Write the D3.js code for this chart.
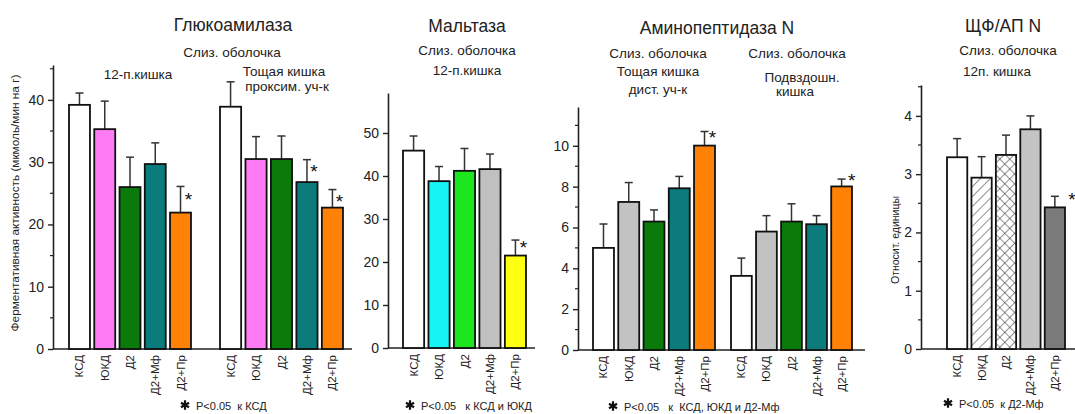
<!DOCTYPE html>
<html><head><meta charset="utf-8">
<script src="https://cdn.jsdelivr.net/npm/d3@7"></script>
<style>
body{margin:0;background:#fff}
svg{display:block;font-family:"Liberation Sans",Arial,sans-serif}
</style>
</head><body>
<svg id="chart" width="1075" height="414"></svg>
<script>
// Группы животных
const groups = ["КСД", "ЮКД", "Д2", "Д2+Мф", "Д2+Пр"];

// Глюкоамилаза, мкмоль/мин на г (среднее и ошибка)
const glucoDuodMean = [39.2, 35.3, 26.0, 29.7, 21.9];
const glucoDuodErr  = [1.9, 4.5, 4.8, 3.4, 4.2];
const glucoJejMean  = [38.9, 30.5, 30.5, 26.8, 22.7];
const glucoJejErr   = [4.0, 3.6, 3.7, 3.6, 2.9];

// Мальтаза
const maltaseMean = [45.9, 38.8, 41.2, 41.6, 21.5];
const maltaseErr  = [3.4, 3.4, 5.2, 3.5, 3.6];

// Аминопептидаза N
const apnJejMean = [5.0, 7.25, 6.29, 7.92, 10.01];
const apnJejErr  = [1.17, 0.95, 0.57, 0.58, 0.69];
const apnIleMean = [3.63, 5.8, 6.29, 6.16, 8.01];
const apnIleErr  = [0.87, 0.78, 0.87, 0.42, 0.36];

// Отношение ЩФ/АП N
const ratioMean = [3.29, 2.94, 3.33, 3.77, 2.43];
const ratioErr  = [0.32, 0.36, 0.34, 0.23, 0.19];

// Достоверные отличия (p<0.05)
const glucoDuodSig = [0, 0, 0, 0, 1];
const glucoJejSig  = [0, 0, 0, 1, 1];
const maltaseSig   = [0, 0, 0, 0, 1];
const apnJejSig    = [0, 0, 0, 0, 1];
const apnIleSig    = [0, 0, 0, 0, 1];
const ratioSig     = [0, 0, 0, 0, 1];

// Деления осей
const glucoTicks = [0, 10, 20, 30, 40];
const glucoMinor = [5, 15, 25, 35, 45];
const maltaseTicks = [0, 10, 20, 30, 40, 50];
const apnTicks = [0, 2, 4, 6, 8, 10];
const apnMinor = [1, 3, 5, 7, 9, 11];
const ratioTicks = [0, 1, 2, 3, 4];
const ratioMinor = [0.5, 1.5, 2.5, 3.5, 4.5];

const svg = d3.select("#chart");
const ink = "#222";

// Штриховки для панели ЩФ/АП N
const defs = svg.append("defs");
const diag = defs.append("pattern").attr("id", "hatchDiag")
  .attr("patternUnits", "userSpaceOnUse").attr("width", 7).attr("height", 7)
  .attr("patternTransform", "rotate(45)");
diag.append("rect").attr("width", 7).attr("height", 7).attr("fill", "#fff");
diag.append("line").attr("x1", 0).attr("y1", 0).attr("x2", 0).attr("y2", 7)
  .attr("stroke", "#333").attr("stroke-width", 1.1);
const cross = defs.append("pattern").attr("id", "hatchCross")
  .attr("patternUnits", "userSpaceOnUse").attr("width", 7).attr("height", 7)
  .attr("patternTransform", "rotate(45)");
cross.append("rect").attr("width", 7).attr("height", 7).attr("fill", "#fff");
cross.append("line").attr("x1", 0).attr("y1", 0).attr("x2", 0).attr("y2", 7)
  .attr("stroke", "#333").attr("stroke-width", 1.1);
cross.append("line").attr("x1", 0).attr("y1", 0).attr("x2", 7).attr("y2", 0)
  .attr("stroke", "#333").attr("stroke-width", 1.1);

const colGluco = ["#ffffff", "#ff7af5", "#0a7a0a", "#0b7b7b", "#ff8207"];
const colMalt  = ["#ffffff", "#16f4f4", "#1ee61e", "#c0c0c0", "#ffff12"];
const colApn   = ["#ffffff", "#c2c2c2", "#0a7a0a", "#0b7b7b", "#ff8207"];
const colRatio = ["#ffffff", "url(#hatchDiag)", "url(#hatchCross)", "#c4c4c4", "#7a7a7a"];

function text(x, y, s, size, opts = {}) {
  const t = svg.append("text").attr("x", x).attr("y", y)
    .attr("font-size", size).attr("fill", opts.fill || ink)
    .attr("text-anchor", opts.anchor || "middle").style("white-space", "pre").text(s);
  if (opts.rotate) t.attr("transform", `rotate(${opts.rotate},${x},${y})`);
  if (opts.weight) t.attr("font-weight", opts.weight);
  return t;
}

function panel(cfg) {
  const y = d3.scaleLinear().domain(cfg.domain).range([cfg.y0, cfg.yTop]);
  const g = svg.append("g");

  // ось Y
  const ax = g.append("g").attr("transform", `translate(${cfg.axisX},0)`)
    .call(d3.axisLeft(y).tickValues(cfg.ticks).tickFormat(d3.format("d"))
      .tickSize(5).tickSizeOuter(0).tickPadding(4));
  ax.select(".domain").attr("stroke", ink).attr("stroke-width", 1.6);
  ax.selectAll(".tick line").attr("stroke", ink).attr("stroke-width", 1.4);
  ax.selectAll(".tick text").attr("font-size", 14).attr("fill", ink)
    .attr("font-family", "Liberation Sans, Arial, sans-serif");
  if (cfg.minor) {
    g.selectAll(null).data(cfg.minor.filter(v => v <= cfg.domain[1])).join("line")
      .attr("x1", cfg.axisX - 3).attr("x2", cfg.axisX)
      .attr("y1", d => y(d)).attr("y2", d => y(d))
      .attr("stroke", ink).attr("stroke-width", 1.2);
  }
  // ось X
  g.append("line").attr("x1", cfg.axisX).attr("x2", cfg.axisEnd)
    .attr("y1", y(0)).attr("y2", y(0)).attr("stroke", ink).attr("stroke-width", 1.6);

  cfg.sets.forEach(s => {
    const x = d3.scaleBand().domain(groups).range(s.range).paddingInner(0.17).paddingOuter(0);
    const rows = groups.map((k, i) => ({k, m: s.mean[i], e: s.err[i], sig: s.sig[i], c: cfg.colors[i]}));
    const bg = g.append("g");
    // усы ошибок
    bg.selectAll(".ev").data(rows).join("line")
      .attr("x1", d => x(d.k) + x.bandwidth() / 2).attr("x2", d => x(d.k) + x.bandwidth() / 2)
      .attr("y1", d => y(d.m)).attr("y2", d => y(d.m + d.e))
      .attr("stroke", "#333").attr("stroke-width", 1.5);
    bg.selectAll(".ec").data(rows).join("line")
      .attr("x1", d => x(d.k) + x.bandwidth() / 2 - 4).attr("x2", d => x(d.k) + x.bandwidth() / 2 + 4)
      .attr("y1", d => y(d.m + d.e)).attr("y2", d => y(d.m + d.e))
      .attr("stroke", "#333").attr("stroke-width", 1.5);
    // столбики
    bg.selectAll("rect").data(rows).join("rect")
      .attr("x", d => x(d.k)).attr("width", x.bandwidth())
      .attr("y", d => y(d.m)).attr("height", d => y(0) - y(d.m))
      .attr("fill", d => d.c).attr("stroke", "#111").attr("stroke-width", 1.8);
    // звёздочки
    bg.selectAll(".star").data(rows.filter(d => d.sig)).join("text")
      .attr("x", d => x(d.k) + x.bandwidth() / 2 + s.star[0])
      .attr("y", d => y(d.m + d.e) + s.star[1])
      .attr("text-anchor", "middle").attr("font-size", 19).attr("fill", "#111")
      .text("*");
    // подписи групп
    bg.selectAll(".lbl").data(rows).join("text")
      .attr("transform", d => `translate(${x(d.k) + x.bandwidth() / 2 + 4},${y(0) + 6}) rotate(-90)`)
      .attr("text-anchor", "end").attr("font-size", 11.5).attr("fill", ink)
      .text(d => d.k);
  });
}

// Глюкоамилаза
panel({
  domain: [0, 45.6], y0: 349, yTop: 65, axisX: 53, axisEnd: 352,
  ticks: glucoTicks, minor: glucoMinor, colors: colGluco,
  sets: [
    {range: [69, 191], mean: glucoDuodMean, err: glucoDuodErr, sig: glucoDuodSig, star: [8, 20]},
    {range: [220, 343], mean: glucoJejMean, err: glucoJejErr, sig: glucoJejSig, star: [7, 18]}
  ]
});
// Мальтаза
panel({
  domain: [0, 59.3], y0: 348, yTop: 93, axisX: 388, axisEnd: 535,
  ticks: maltaseTicks, colors: colMalt,
  sets: [{range: [403, 526], mean: maltaseMean, err: maltaseErr, sig: maltaseSig, star: [8, 14]}]
});
// Аминопептидаза N
panel({
  domain: [0, 11.9], y0: 350, yTop: 107, axisX: 578, axisEnd: 865,
  ticks: apnTicks, minor: apnMinor, colors: colApn,
  sets: [
    {range: [593, 715], mean: apnJejMean, err: apnJejErr, sig: apnJejSig, star: [8, 12]},
    {range: [731, 852], mean: apnIleMean, err: apnIleErr, sig: apnIleSig, star: [10, 8]}
  ]
});
// ЩФ/АП N
panel({
  domain: [0, 4.53], y0: 349, yTop: 85, axisX: 921, axisEnd: 1075,
  ticks: ratioTicks, minor: ratioMinor, colors: colRatio,
  sets: [{range: [947, 1065], mean: ratioMean, err: ratioErr, sig: ratioSig, star: [17, 10]}]
});

// Заголовки и подписи
text(233, 31, "Глюкоамилаза", 17.5);
text(232, 57, "Слиз. оболочка", 13.5);
text(138, 79, "12-п.кишка", 13.5);
text(284, 76, "Тощая кишка", 13.5);
text(287, 91, "проксим. уч-к", 13.5);
text(19, 203, "Ферментативная активность (мкмоль/мин на г)", 11.8, {rotate: -90});

text(467, 32, "Мальтаза", 17.5);
text(467, 55, "Слиз. оболочка", 13.5);
text(467, 75, "12-п.кишка", 13.5);

text(717, 34, "Аминопептидаза N", 17.5);
text(658, 58, "Слиз. оболочка", 13.5);
text(658, 76, "Тощая кишка", 13.5);
text(658, 94, "дист. уч-к", 13.5);
text(797, 58, "Слиз. оболочка", 13.5);
text(802, 82, "Подвздошн.", 13.5);
text(795, 96, "кишка", 13.5);

text(1003, 32, "ЩФ/АП N", 17.5);
text(1008, 55, "Слиз. оболочка", 13.5);
text(997, 76, "12п. кишка", 13.5);
text(899, 240, "Относит. единицы", 10.5, {rotate: -90});

// Примечания
const noteStar = d3.symbol(d3.symbolAsterisk, 60);
function note(x, y, s) {
  svg.append("path").attr("d", noteStar())
    .attr("transform", `translate(${x},${y - 5})`)
    .attr("fill", "none").attr("stroke", "#111").attr("stroke-width", 2.2);
  text(x + 11, y, s, 11, {anchor: "start"});
}
note(185, 410, "P<0.05  к КСД");
note(410, 410, "P<0.05   к КСД и ЮКД");
note(613, 411, "P<0.05   к  КСД, ЮКД и Д2-Мф");
note(948, 408, "P<0.05  к Д2-Мф");
</script>
</body></html>
